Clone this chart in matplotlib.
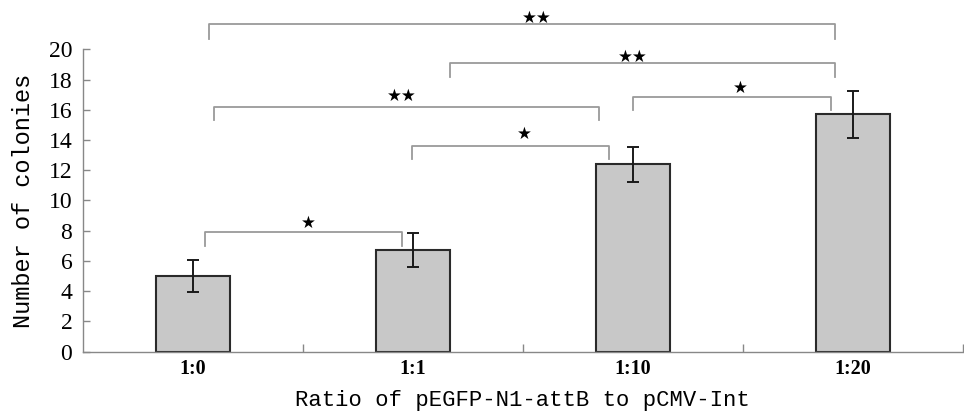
import matplotlib
matplotlib.use("Agg")
import matplotlib.pyplot as plt
import numpy as np

# ---- data ----
categories = ["1:0", "1:1", "1:10", "1:20"]
means = [5.0, 6.7, 12.4, 15.7]
errors = [1.05, 1.13, 1.15, 1.54]
yticks = [0, 2, 4, 6, 8, 10, 12, 14, 16, 18, 20]

# significance brackets: left x, right x, line height, drop-to height, label, label x, label y
br_left = [0.075, 1.17, 0.095, 0.996, 2.0, 0.054]
br_right = [2.918, 2.918, 1.846, 1.892, 2.899, 0.95]
br_top = [21.65, 19.11, 16.2, 13.6, 16.87, 7.94]
br_bottom = [20.68, 18.15, 15.32, 12.74, 15.98, 6.99]
br_label = ["★★", "★★", "★★", "★", "★", "★"]
lab_x = [1.564, 1.999, 0.950, 1.507, 2.490, 0.525]
lab_y = [22.07, 19.51, 16.93, 14.41, 17.42, 8.51]

xlabel = "Ratio of pEGFP-N1-attB to pCMV-Int"
ylabel = "Number of colonies"

fig = plt.figure(figsize=(9.64, 4.17), dpi=100)
ax = fig.add_axes([0.0858, 0.1566, 0.999 - 0.0858, 0.8818 - 0.1566])

x = np.arange(len(categories))
ax.bar(x, means, width=0.334, color="#c8c8c8", edgecolor="#2a2a2a", linewidth=1.5, zorder=2)
ax.errorbar(x, means, yerr=errors, fmt="none", ecolor="#1a1a1a", elinewidth=1.4,
            capsize=4.6, capthick=1.4, zorder=3)

ax.set_xlim(-0.5, len(categories) - 0.5)
ax.set_ylim(0, 20)
ax.set_yticks(yticks)
ax.set_yticklabels([str(v) for v in yticks], family="Liberation Serif", fontsize=17)
ax.set_xticks(x)
ax.set_xticklabels(categories, family="Liberation Serif", fontsize=14.5, fontweight="bold")
ax.set_xticks(np.arange(len(categories)) + 0.5, minor=True)

ax.tick_params(axis="x", which="major", length=0, pad=5)
ax.tick_params(axis="x", which="minor", direction="in", length=5.5, width=1.0, color="#888888")
ax.tick_params(axis="y", which="major", direction="in", length=5, width=1.0, color="#888888", pad=7.5)

for s in ["top", "right"]:
    ax.spines[s].set_visible(False)
for s in ["left", "bottom"]:
    ax.spines[s].set_color("#888888")
    ax.spines[s].set_linewidth(1.0)

ax.set_ylabel(ylabel, family="Liberation Mono", fontsize=17)
ax.yaxis.set_label_coords(-0.0678, 0.5)
ax.yaxis.label.set_va("center")
ax.set_xlabel(xlabel, family="Liberation Mono", fontsize=16)
ax.xaxis.set_label_coords(0.5, -0.16)
ax.xaxis.label.set_va("center")

for l, r, t, b, lab, lx, ly in zip(br_left, br_right, br_top, br_bottom, br_label, lab_x, lab_y):
    ax.plot([l, l, r, r], [b, t, t, b], color="#9a9a9a", linewidth=1.3, clip_on=False, zorder=1)
    ax.text(lx, ly, lab, ha="center", va="center", fontsize=12, family="DejaVu Sans",
            color="black", clip_on=False)

fig.savefig("out.png", dpi=100)
